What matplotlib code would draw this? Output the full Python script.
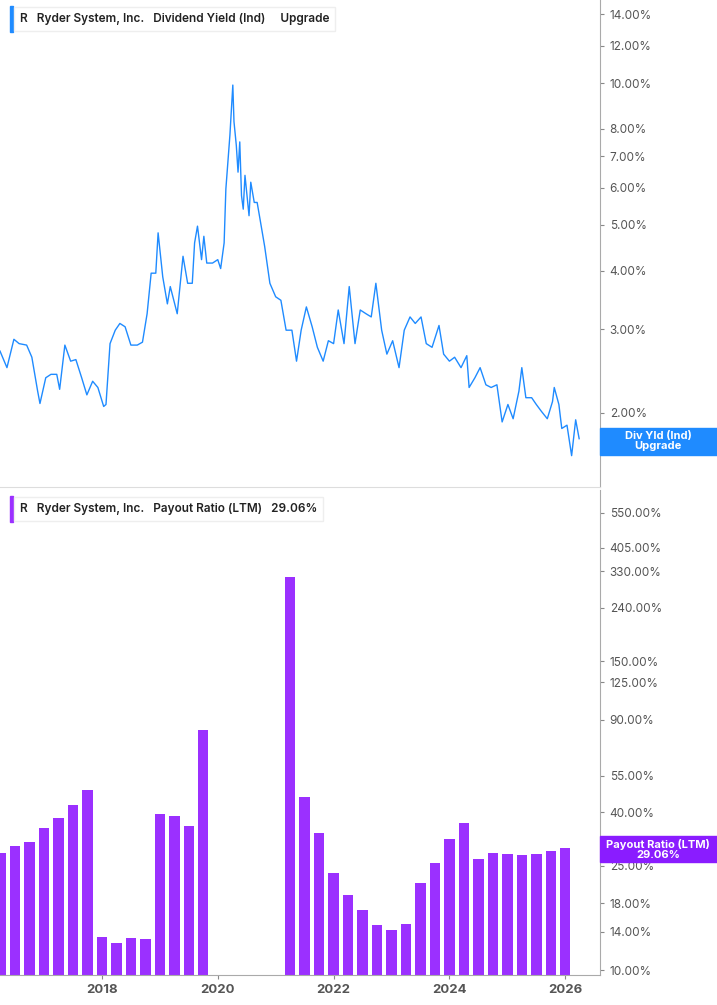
import matplotlib
matplotlib.use("Agg")
import matplotlib.pyplot as plt
from matplotlib.ticker import FixedLocator, NullLocator, NullFormatter

plt.rcParams['font.family'] = ['Inter', 'DejaVu Sans']

yld_dates = [2016.24,2016.36,2016.48,2016.57,2016.70,2016.79,2016.89,2016.93,2017.03,2017.12,2017.22,2017.27,
 2017.36,2017.46,2017.55,2017.65,2017.74,2017.84,2017.93,2018.03,2018.07,2018.14,2018.23,2018.31,2018.40,
 2018.50,2018.61,2018.70,2018.78,2018.85,2018.93,2018.97,2019.05,2019.13,2019.18,2019.27,2019.30,2019.40,
 2019.48,2019.56,2019.60,2019.65,2019.72,2019.76,2019.81,2019.91,2020.00,2020.05,2020.11,2020.14,2020.21,
 2020.26,2020.28,2020.32,2020.35,2020.38,2020.41,2020.44,2020.47,2020.54,2020.57,2020.63,2020.68,2020.73,
 2020.81,2020.90,2021.00,2021.09,2021.18,2021.28,2021.36,2021.44,2021.53,2021.63,2021.72,2021.82,2021.91,
 2022.00,2022.08,2022.18,2022.27,2022.37,2022.46,2022.56,2022.65,2022.73,2022.83,2022.92,2023.02,2023.13,
 2023.22,2023.32,2023.41,2023.51,2023.60,2023.70,2023.82,2023.90,2024.00,2024.09,2024.20,2024.30,2024.34,
 2024.44,2024.53,2024.63,2024.72,2024.82,2024.91,2025.01,2025.10,2025.20,2025.25,2025.32,2025.42,2025.50,
 2025.59,2025.69,2025.78,2025.81,2025.89,2025.94,2026.03,2026.11,2026.18,2026.24]
yld_values = [2.70,2.49,2.86,2.80,2.78,2.62,2.22,2.09,2.37,2.41,2.41,2.24,
 2.78,2.57,2.59,2.37,2.18,2.33,2.26,2.06,2.08,2.80,2.99,3.09,3.04,
 2.78,2.78,2.82,3.24,3.95,3.95,4.81,3.88,3.40,3.70,3.35,3.24,4.29,
 3.76,3.76,4.58,4.97,4.22,4.73,4.15,4.15,4.22,4.04,4.58,5.96,7.76,
 9.90,8.28,7.38,6.47,7.50,5.77,5.40,6.37,5.23,6.16,5.58,5.58,5.14,
 4.50,3.76,3.52,3.46,2.99,2.99,2.57,2.99,3.35,3.04,2.75,2.57,2.84,
 2.80,3.30,2.80,3.70,2.80,3.30,3.24,3.19,3.76,2.99,2.66,2.84,2.49,
 2.99,3.19,3.09,3.19,2.80,2.75,3.06,2.66,2.57,2.62,2.49,2.64,2.26,
 2.37,2.49,2.29,2.26,2.29,1.91,2.08,1.94,2.22,2.49,2.15,2.15,
 2.08,2.01,1.94,2.11,2.26,2.08,1.85,1.88,1.62,1.93,1.76]

payout_dates = [2016.25,2016.5,2016.75,2017.0,2017.25,2017.5,2017.75,2018.0,2018.25,2018.5,2018.75,
 2019.0,2019.25,2019.5,2019.75,2021.25,2021.5,2021.75,2022.0,2022.25,2022.5,2022.75,2023.0,2023.25,
 2023.5,2023.75,2024.0,2024.25,2024.5,2024.75,2025.0,2025.25,2025.5,2025.75,2026.0]
payout_values = [27.9,29.5,30.8,34.6,37.8,42.4,48.3,13.3,12.6,13.2,13.1,
 39.3,38.6,35.3,81.8,313,45.7,33.1,23.4,19.3,16.9,14.8,14.2,14.9,
 21.4,25.5,31.5,36.3,26.4,27.8,27.5,27.4,27.6,28.3,29.06]

top_ticks = [2, 3, 4, 5, 6, 7, 8, 10, 12, 14]
bot_ticks = [10, 14, 18, 25, 40, 55, 90, 125, 150, 240, 330, 405, 550]
year_ticks = [2018, 2020, 2022, 2024, 2026]

W, H = 717, 1005
fig = plt.figure(figsize=(W/100, H/100), dpi=100)
fig.patch.set_facecolor('white')
pw = 600 / W
ax1 = fig.add_axes([0, (H-487)/H, pw, 487/H])
ax2 = fig.add_axes([0, 30/H, pw, (975-490)/H])

blue = '#1f8bff'
purple = '#9b30ff'
grey = '#555555'
xmin, xmax = 2016.24, 2026.6

ax1.plot(yld_dates, yld_values, color=blue, lw=1.0)
ax1.set_yscale('log')
ax1.set_ylim(1.39, 15.0)
ax2.bar(payout_dates, payout_values, width=0.18, color=purple, bottom=0.1)
ax2.set_yscale('log')
ax2.set_ylim(9.6, 672)

for ax, ticks in ((ax1, top_ticks), (ax2, bot_ticks)):
    ax.set_xlim(xmin, xmax)
    ax.yaxis.tick_right()
    ax.yaxis.set_major_locator(FixedLocator(ticks))
    ax.yaxis.set_minor_locator(NullLocator())
    ax.yaxis.set_minor_formatter(NullFormatter())
    ax.set_yticklabels([f"{t:.2f}%" for t in ticks])
    ax.tick_params(axis='y', colors='#888888', labelcolor=grey, labelsize=8.5, length=3, pad=4)
    for s in ('top', 'left'):
        ax.spines[s].set_visible(False)
    ax.spines['right'].set_color('#aaaaaa')
    ax.set_facecolor('white')

ax1.spines['bottom'].set_color('#dddddd')
ax1.set_xticks([])
ax2.spines['bottom'].set_color('#aaaaaa')
ax2.set_xticks(year_ticks)
ax2.set_xticklabels([str(y) for y in year_ticks])
ax2.tick_params(axis='x', colors='#888888', labelcolor=grey, labelsize=9.5, length=3)
for l in ax2.get_xticklabels():
    l.set_fontweight('bold')

# legend boxes
fig.text(20/W, 1-19/H, "R   Ryder System, Inc.   Dividend Yield (Ind)     Upgrade", fontsize=8.5,
         color='#222222', va='center', fontweight='semibold',
         bbox=dict(boxstyle='square,pad=0.5', fc='white', ec='#eeeeee'))
fig.add_artist(plt.Rectangle((10/W, 1-32/H), 3/W, 26/H, color=blue, transform=fig.transFigure))
fig.text(20/W, 1-509/H, "R   Ryder System, Inc.   Payout Ratio (LTM)   29.06%", fontsize=8.5,
         color='#222222', va='center', fontweight='semibold',
         bbox=dict(boxstyle='square,pad=0.5', fc='white', ec='#eeeeee'))
fig.add_artist(plt.Rectangle((10/W, 1-522/H), 3/W, 26/H, color=purple, transform=fig.transFigure))

# value boxes
fig.add_artist(plt.Rectangle((600/W, 1-455/H), 117/W, 27/H, color=blue, transform=fig.transFigure))
fig.text(658/W, 1-441/H, "Div Yld (Ind)\nUpgrade", color='white', fontsize=8, fontweight='bold',
         ha='center', va='center', linespacing=1.0)
fig.add_artist(plt.Rectangle((600/W, 1-862/H), 117/W, 26/H, color='#8a1cff', transform=fig.transFigure))
fig.text(658/W, 1-849/H, "Payout Ratio (LTM)\n29.06%", color='white', fontsize=8, fontweight='bold',
         ha='center', va='center', linespacing=1.0)

fig.savefig('out.png', dpi=100)
